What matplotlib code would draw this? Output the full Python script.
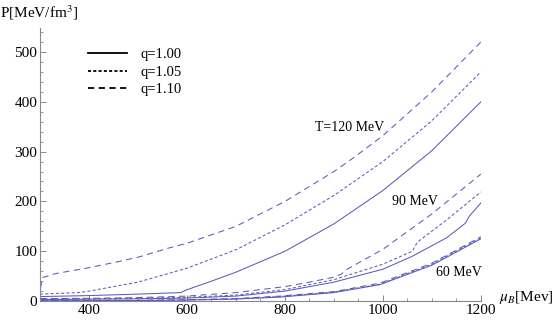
import matplotlib
matplotlib.use("Agg")
import matplotlib.pyplot as plt
from matplotlib.lines import Line2D
from matplotlib.ticker import MultipleLocator

plt.rcParams["font.family"] = ["Liberation Serif", "DejaVu Serif"]
plt.rcParams["mathtext.fontset"] = "stix"
plt.rcParams["lines.scale_dashes"] = False

# pressure curves P(mu_B), keyed by (T, q)
mu_120_110 = [301, 305, 331, 400, 459, 500, 561, 600, 700, 800, 900, 939, 1000, 1100, 1200]
p_120_110 = [26, 47, 55, 67, 79, 88, 106, 116, 150, 200, 260, 287, 332, 420, 520]
mu_120_105 = [300, 378, 400, 500, 600, 700, 800, 900, 1000, 1100, 1200]
p_120_105 = [14, 17, 20, 38, 66, 103, 153, 212, 280, 362, 460]
mu_120_100 = [300, 400, 500, 588, 595, 650, 700, 800, 900, 1000, 1100, 1200]
p_120_100 = [9, 11, 14, 17, 21, 40, 58, 100, 155, 222, 302, 400]

mu_90_110 = [300, 400, 500, 600, 700, 800, 850, 900, 915, 925, 1000, 1100, 1200]
p_90_110 = [5, 5.5, 7, 10, 17, 29, 38, 48, 54, 63, 104, 175, 255]
mu_90_105 = [300, 500, 600, 700, 800, 900, 1000, 1060, 1070, 1130, 1200]
p_90_105 = [4, 5.5, 7.5, 12, 23, 43, 74, 100, 118, 163, 219]
mu_90_100 = [300, 500, 600, 700, 800, 900, 1000, 1060, 1130, 1160, 1168, 1176, 1200]
p_90_100 = [3, 4.5, 6, 10, 20, 38, 64, 90, 127, 150, 156, 170, 197]

mu_60 = [300, 500, 600, 700, 790, 900, 994, 1100, 1200]
p_60_100 = [0.5, 1.0, 2.0, 4.0, 8, 17, 33, 72, 125]
p_60_105 = [0.6, 1.2, 2.3, 4.5, 9, 18, 34, 74, 127]
p_60_110 = [0.8, 1.5, 2.7, 5.0, 10, 19, 36, 76, 129]

q_labels = ["q=1.00", "q=1.05", "q=1.10"]
temp_labels = ["T=120 MeV", "90 MeV", "60 MeV"]

color = "#5c5cba"
styles = {"1.00": "-", "1.05": (0, (2.2, 1.6)), "1.10": (0, (4.5, 3.2))}

fig = plt.figure(figsize=(5.56, 3.22), dpi=100)
ax = fig.add_axes([0.072, 0.065, 0.793, 0.848])

curves = [
    (mu_120_110, p_120_110, "1.10"), (mu_120_105, p_120_105, "1.05"), (mu_120_100, p_120_100, "1.00"),
    (mu_90_110, p_90_110, "1.10"), (mu_90_105, p_90_105, "1.05"), (mu_90_100, p_90_100, "1.00"),
    (mu_60, p_60_110, "1.10"), (mu_60, p_60_105, "1.05"), (mu_60, p_60_100, "1.00"),
]
for mu, p, q in curves:
    ax.plot(mu, p, color=color, lw=0.75, linestyle=styles[q])

ax.set_xlim(300, 1200)
ax.set_ylim(0, 548)
ax.set_xticks([400, 600, 800, 1000, 1200])
ax.set_yticks([0, 100, 200, 300, 400, 500])
ax.xaxis.set_minor_locator(MultipleLocator(50))
ax.yaxis.set_minor_locator(MultipleLocator(20))
for s in ["top", "right"]:
    ax.spines[s].set_visible(False)
for s in ["left", "bottom"]:
    ax.spines[s].set_color("#888888")
    ax.spines[s].set_linewidth(0.8)
ax.tick_params(which="both", direction="in", color="#888888", labelsize=11, pad=2)
ax.tick_params(which="major", length=4, width=0.7)
ax.tick_params(which="minor", length=2, width=0.6)

# temperature labels
ax.text(931, 349, temp_labels[0], fontsize=10, ha="center", va="center")
ax.text(1065, 199, temp_labels[1], fontsize=10, ha="center", va="center")
ax.text(1155, 58, temp_labels[2], fontsize=10, ha="center", va="center")

# axis labels, Mathematica style
fig.text(0.0, 0.962, r"P[MeV/fm$^3$]", fontsize=11, ha="left", va="center")
fig.text(0.897, 0.075, r"$\mu_B$[Mev]", fontsize=11, ha="left", va="center")

handles = [Line2D([], [], color="black", lw=1.3, linestyle=styles[q]) for q in ["1.00", "1.05", "1.10"]]
ax.legend(handles, q_labels, loc="upper left", bbox_to_anchor=(0.078, 0.975), frameon=False,
          fontsize=10.5, handlelength=2.7, handletextpad=0.9, labelspacing=0.3)

fig.savefig("out.png", dpi=100)
